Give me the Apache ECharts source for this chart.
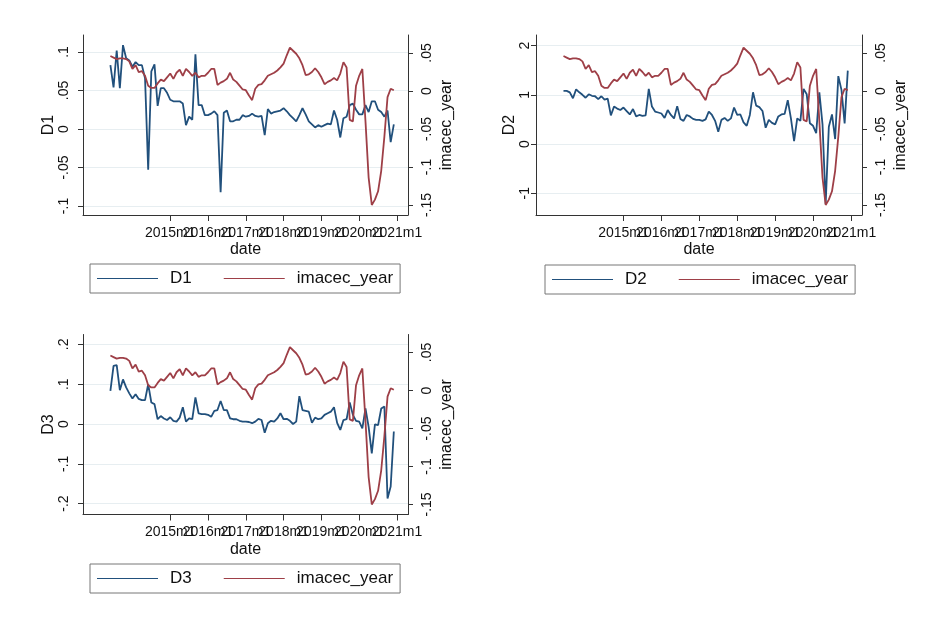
<!DOCTYPE html>
<html>
<head>
<meta charset="utf-8">
<title>D1 D2 D3 vs imacec_year</title>
<script src="https://cdn.jsdelivr.net/npm/echarts@6/dist/echarts.min.js"></script>
<style>
html, body { margin: 0; padding: 0; background: #fff; }
#chart { width: 931px; height: 625px; }
</style>
</head>
<body>
<div id="chart"></div>
<script>
// monthly data, 2013m6 .. 2020m12
var firstMonth = '2013m6';

var imacecYear = [
    0.046, 0.044, 0.042, 0.043, 0.043, 0.042, 0.039, 0.029, 0.034, 0.025, 0.026, 0.020, 0.007, 0.004, 0.004, 0.010, 0.015, 0.013, 0.018,
    0.023, 0.016, 0.024, 0.028, 0.020, 0.029, 0.025, 0.020, 0.024, 0.018, 0.020, 0.020,
    0.024, 0.029, 0.029, 0.008, 0.011, 0.013, 0.016, 0.024, 0.015, 0.012, 0.007, 0.002,
    0.001, -0.006, -0.012, 0.003, 0.008, 0.009, 0.014, 0.020, 0.022, 0.024, 0.027, 0.031,
    0.036, 0.047, 0.057, 0.053, 0.049, 0.043, 0.034, 0.021, 0.022, 0.025, 0.030, 0.025,
    0.018, 0.009, 0.012, 0.014, 0.017, 0.014, 0.023, 0.038, 0.031, -0.038, -0.040, 0.007,
    0.020, 0.029, -0.040, -0.114, -0.150, -0.143, -0.132, -0.105, -0.060, -0.008, 0.003, 0.001
];
var d1 = [
    0.083, 0.054, 0.102, 0.053, 0.109, 0.092, 0.089, 0.081, 0.087, 0.083, 0.083, 0.066, -0.053, 0.075, 0.084, 0.030, 0.053, 0.053, 0.047,
    0.038, 0.036, 0.036, 0.036, 0.033, 0.005, 0.016, 0.012, 0.097, 0.031, 0.031, 0.018,
    0.018, 0.020, 0.023, 0.018, -0.082, 0.021, 0.024, 0.010, 0.010, 0.012, 0.012, 0.018,
    0.016, 0.017, 0.020, 0.017, 0.016, 0.017, -0.008, 0.026, 0.020, 0.022, 0.023, 0.024,
    0.027, 0.023, 0.018, 0.014, 0.010, 0.018, 0.027, 0.019, 0.010, 0.006, 0.002, 0.005,
    0.003, 0.005, 0.007, 0.006, 0.024, 0.012, -0.011, 0.014, 0.016, 0.031, 0.033, 0.025,
    0.019, 0.019, 0.031, 0.022, 0.036, 0.036, 0.025, 0.022, 0.016, 0.024, -0.017, 0.006
];
var d2 = [
    1.08, 1.08, 1.05, 0.93, 1.11, 1.05, 1.00, 0.94, 1.01, 0.98, 0.97, 0.91, 0.97, 0.90, 0.92, 0.58, 0.76, 0.72, 0.69,
    0.74, 0.67, 0.60, 0.71, 0.56, 0.59, 0.57, 0.58, 1.12, 0.76, 0.66, 0.64,
    0.62, 0.53, 0.69, 0.59, 0.52, 0.77, 0.51, 0.47, 0.59, 0.56, 0.51, 0.49,
    0.49, 0.47, 0.50, 0.66, 0.59, 0.47, 0.25, 0.49, 0.53, 0.47, 0.52, 0.74,
    0.59, 0.60, 0.44, 0.37, 0.59, 1.05, 0.78, 0.75, 0.67, 0.33, 0.49, 0.43,
    0.40, 0.56, 0.60, 0.61, 0.89, 0.52, 0.06, 0.52, 0.47, 1.12, 1.01, 0.42,
    0.37, 0.22, 1.05, 0.40, -1.22, 0.35, 0.60, 0.10, 1.38, 1.10, 0.42, 1.49
];
var d3 = [
    0.083, 0.146, 0.148, 0.085, 0.112, 0.092, 0.077, 0.064, 0.075, 0.063, 0.060, 0.060, 0.100, 0.054, 0.050, 0.012, 0.020, 0.014, 0.010,
    0.017, 0.008, 0.006, 0.016, 0.042, 0.006, 0.014, 0.012, 0.067, 0.027, 0.025, 0.025,
    0.023, 0.018, 0.033, 0.035, 0.058, 0.035, 0.035, 0.014, 0.012, 0.012, 0.008, 0.006,
    0.006, 0.005, 0.002, 0.006, 0.013, 0.010, -0.022, 0.002, 0.008, 0.006, 0.014, 0.027,
    0.012, 0.013, 0.008, 0.000, 0.006, 0.070, 0.035, 0.033, 0.031, 0.003, 0.016, 0.012,
    0.014, 0.023, 0.027, 0.031, 0.042, 0.003, -0.015, 0.010, 0.012, 0.054, 0.023, 0.008,
    0.006, -0.011, 0.039, -0.007, -0.074, -0.001, -0.003, 0.039, 0.044, -0.187, -0.157, -0.019
];

var dateTicks = ['2015m1', '2016m1', '2017m1', '2018m1', '2019m1', '2020m1', '2021m1'];
var d1Ticks = [-0.1, -0.05, 0, 0.05, 0.1];
var d2Ticks = [-1, 0, 1, 2];
var d3Ticks = [-0.2, -0.1, 0, 0.1, 0.2];
var imacecTicks = [-0.15, -0.1, -0.05, 0, 0.05];

var colors = {
    d: '#21507c',
    imacec: '#9e3f47',
    axis: '#333333',
    grid: '#e7eef1',
    text: '#111111',
    legendBorder: '#777777'
};
var font = '"Liberation Sans", Arial, Helvetica, sans-serif';

// Stata %tm style: months since 1960m1
var toMonth = function (s) {
    var p = s.split('m');
    return (+p[0] - 1960) * 12 + (+p[1] - 1);
};
var monthLabel = function (v) {
    v = Math.round(v);
    return (1960 + Math.floor(v / 12)) + 'm' + (v % 12 + 1);
};
// .05 / -.1 style labels
var stataNum = function (v) {
    var s = String(+(+v).toFixed(4));
    return s.replace(/^(-?)0\./, '$1.');
};
var pairs = function (values) {
    var start = toMonth(firstMonth);
    return values.map(function (v, i) { return [start + i, v]; });
};

var panels = [
    { name: 'D1', values: d1, ticks: d1Ticks, range: [-0.1117, 0.1221],
      grid: { left: 83, top: 35, width: 325, height: 180 },
      legend: { left: 90, top: 264 }, labelMargin: 12, nameGap: 21 },
    { name: 'D2', values: d2, ticks: d2Ticks, range: [-1.443, 2.215],
      grid: { left: 536, top: 35, width: 326, height: 180 },
      legend: { left: 545, top: 265 }, labelMargin: 4, nameGap: 13 },
    { name: 'D3', values: d3, ticks: d3Ticks, range: [-0.2274, 0.2249],
      grid: { left: 83, top: 334.5, width: 325, height: 180 },
      legend: { left: 90, top: 564 }, labelMargin: 12, nameGap: 21 }
];
var xRange = [632.3, 735.5];
var imacecRange = [-0.1632, 0.0737];
var xTickValues = dateTicks.map(toMonth);
// blank labels at both ends keep every date label visible
var xLabelValues = [xRange[0]].concat(xTickValues, [xRange[1]]);

var textStyle = function (size) {
    return { fontSize: size, color: colors.text, fontFamily: font };
};
var axisLineStyle = { show: true, onZero: false, lineStyle: { color: colors.axis, width: 1 } };

var option = {
    animation: false,
    backgroundColor: '#ffffff',
    grid: [],
    xAxis: [],
    yAxis: [],
    legend: [],
    series: []
};

panels.forEach(function (p, i) {
    option.grid.push(Object.assign({ outerBoundsMode: 'none' }, p.grid));

    option.xAxis.push({
        type: 'value',
        gridIndex: i,
        min: xRange[0],
        max: xRange[1],
        name: 'date',
        nameLocation: 'middle',
        nameGap: 27,
        nameTextStyle: textStyle(16),
        axisLine: axisLineStyle,
        axisTick: { show: true, length: 6, customValues: xTickValues, lineStyle: { color: colors.axis } },
        axisLabel: Object.assign({
            customValues: xLabelValues,
            formatter: function (v) {
                return xTickValues.indexOf(Math.round(v)) >= 0 && Math.abs(v - Math.round(v)) < 1e-6 ? monthLabel(v) : '';
            },
            margin: 11,
            showMinLabel: true, showMaxLabel: true, hideOverlap: false
        }, textStyle(14)),
        splitLine: { show: false }
    });

    option.yAxis.push({
        type: 'value',
        gridIndex: i,
        position: 'left',
        min: p.range[0],
        max: p.range[1],
        name: p.name,
        nameLocation: 'middle',
        nameGap: p.nameGap,
        nameTextStyle: textStyle(16),
        axisLine: axisLineStyle,
        axisTick: { show: true, length: 5, customValues: p.ticks, lineStyle: { color: colors.axis } },
        axisLabel: Object.assign({
            customValues: p.ticks, rotate: 90, formatter: stataNum, margin: p.labelMargin,
            showMinLabel: true, showMaxLabel: true
        }, textStyle(14)),
        splitLine: { show: true, lineStyle: { color: colors.grid, width: 1 } }
    });
    option.yAxis.push({
        type: 'value',
        gridIndex: i,
        position: 'right',
        min: imacecRange[0],
        max: imacecRange[1],
        name: 'imacec_year',
        nameLocation: 'middle',
        nameGap: 31,
        nameTextStyle: textStyle(16),
        axisLine: axisLineStyle,
        axisTick: { show: true, length: 5, customValues: imacecTicks, lineStyle: { color: colors.axis } },
        axisLabel: Object.assign({
            customValues: imacecTicks, rotate: 90, formatter: stataNum, margin: 12,
            showMinLabel: true, showMaxLabel: true
        }, textStyle(14)),
        splitLine: { show: false }
    });

    option.legend.push({
        left: p.legend.left,
        top: p.legend.top,
        orient: 'horizontal',
        data: [p.name, 'imacec_year'],
        icon: 'rect',
        itemWidth: 61,
        itemHeight: 1,
        itemGap: 32,
        padding: [6, 7, 6, 7],
        borderColor: colors.legendBorder,
        borderWidth: 1,
        backgroundColor: '#ffffff',
        textStyle: Object.assign({ padding: [0, 0, 0, 7] }, textStyle(17)),
        selectedMode: false
    });

    option.series.push({
        name: p.name,
        type: 'line',
        xAxisIndex: i,
        yAxisIndex: i * 2,
        data: pairs(p.values),
        symbol: 'none',
        lineStyle: { color: colors.d, width: 1.8 },
        itemStyle: { color: colors.d }
    });
    option.series.push({
        name: 'imacec_year',
        type: 'line',
        xAxisIndex: i,
        yAxisIndex: i * 2 + 1,
        data: pairs(imacecYear),
        symbol: 'none',
        lineStyle: { color: colors.imacec, width: 1.8 },
        itemStyle: { color: colors.imacec }
    });
});

var chart = echarts.init(document.getElementById('chart'));
chart.setOption(option);
</script>
</body>
</html>
